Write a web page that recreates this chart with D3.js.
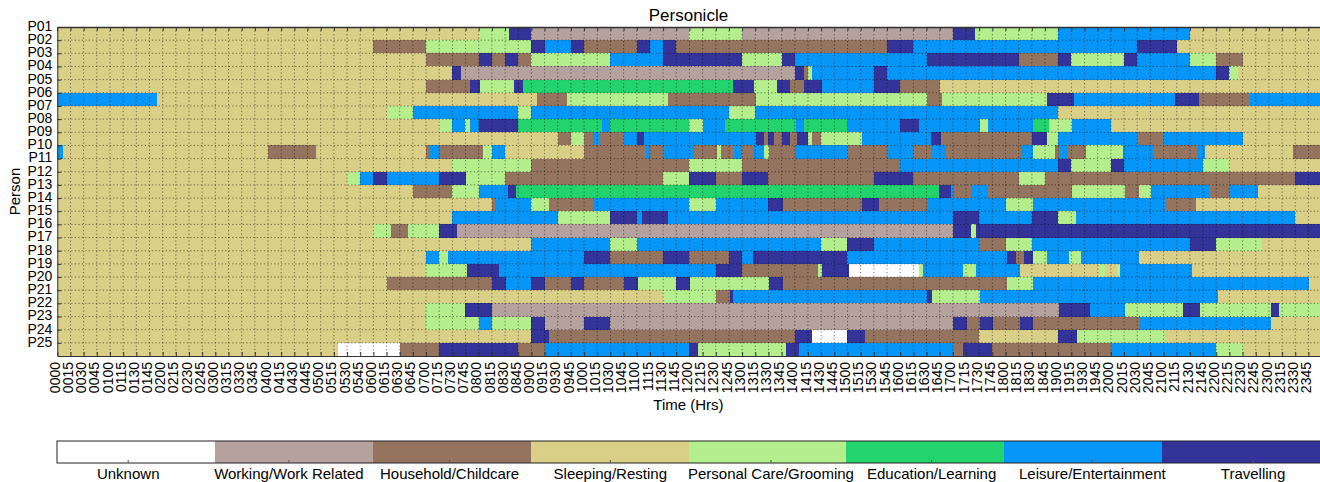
<!DOCTYPE html>
<html>
<head>
<meta charset="utf-8">
<script src="https://cdn.jsdelivr.net/npm/d3@7"></script>
<style>
  body { margin: 0; background: #fff; }
  svg text { font-family: "Liberation Sans", Arial, sans-serif; fill: #000; }
</style>
</head>
<body>
<div id="chart"></div>
<script>
const categories = ["Unknown", "Working/Work Related", "Household/Childcare", "Sleeping/Resting",
  "Personal Care/Grooming", "Education/Learning", "Leisure/Entertainment", "Travelling"];
const codes = ["U", "W", "H", "S", "P", "E", "L", "T"];
const colors = ["#ffffff", "#b5a19e", "#94745f", "#d9cf87", "#b4ee8d", "#23d36d", "#0596f7", "#333399"];

const persons = ["P01", "P02", "P03", "P04", "P05", "P06", "P07", "P08", "P09", "P10", "P11", "P12", "P13",
  "P14", "P15", "P16", "P17", "P18", "P19", "P20", "P21", "P22", "P23", "P24", "P25"];

// one string per row: "start code" pairs, each run lasts until the next start (last one until 2400)
const schedules = [
  "0000 S,0800 P,0835 T,0900 W,1200 P,1300 W,1700 T,1725 P,1900 L,2130 S",
  "0000 S,0600 H,0700 P,0900 T,0915 L,0945 T,1000 H,1100 T,1115 L,1130 T,1145 H,1545 T,1615 L,2030 T,2115 S",
  "0000 S,0700 H,0800 T,0815 H,0830 T,0845 H,0900 P,1030 L,1130 T,1300 P,1345 T,1400 L,1630 T,1815 H,1900 T,1915 P,2015 T,2030 L,2130 P,2200 H,2230 S",
  "0000 S,0730 T,0740 W,1400 T,1410 H,1415 P,1420 L,1530 T,1545 L,2200 T,2215 P,2225 S",
  "0000 S,0700 H,0750 T,0802 P,0840 T,0850 E,1250 T,1313 P,1340 T,1354 H,1411 T,1431 L,1530 T,1600 H,1645 S",
  "0000 L,0153 S,0906 H,0941 P,1136 H,1316 P,1630 H,1648 P,1847 T,1918 L,2113 T,2140 H,2238 L",
  "0000 S,0615 P,0645 L,0845 P,0900 L,1245 P,1315 L,1900 S",
  "0000 S,0715 P,0730 L,0744 P,0750 L,0800 T,0845 E,1020 L,1030 E,1200 P,1215 L,1240 E,1401 L,1411 E,1500 L,1600 T,1621 L,1731 P,1740 L,1831 E,1850 P,1916 L,2000 S",
  "0000 S,0930 H,0945 P,1000 H,1010 L,1017 H,1045 L,1100 T,1108 L,1316 T,1325 H,1330 T,1336 H,1345 T,1354 H,1403 T,1415 P,1420 H,1430 P,1516 L,1635 T,1647 H,1830 T,1847 P,1900 L,2030 H,2100 L,2230 S",
  "0000 L,0007 S,0400 H,0455 S,0700 H,0705 L,0716 H,0805 P,0815 L,0830 S,1000 H,1111 L,1115 H,1130 L,1205 H,1231 P,1236 H,1251 L,1300 H,1312 L,1325 P,1331 H,1400 L,1500 H,1545 L,1615 H,1635 L,1652 H,1818 L,1831 P,1856 H,1901 L,1911 H,1932 P,2014 L,2048 H,2138 L,2147 S,2327 H",
  "0000 S,0730 P,0900 H,1200 P,1300 H,1600 L,1900 T,1915 P,2000 T,2015 L,2145 P,2215 S",
  "0000 S,0530 P,0545 L,0600 T,0615 L,0715 T,0745 P,0830 H,1130 P,1200 T,1230 H,1300 T,1330 H,1530 T,1615 H,1815 P,1845 H,2330 T",
  "0000 S,0645 H,0730 P,0800 L,0833 T,0842 E,1644 T,1658 L,1701 H,1721 L,1740 H,1916 P,2016 H,2032 P,2046 L,2152 H,2216 L,2247 S",
  "0000 S,0815 H,0819 L,0900 P,0920 H,1010 L,1200 P,1230 L,1330 T,1346 H,1516 T,1536 H,1631 L,1800 P,1831 L,2102 H,2137 S",
  "0000 S,0730 L,0930 P,1030 T,1100 L,1106 T,1135 L,1700 T,1730 L,1830 T,1900 P,1920 L,2330 S",
  "0000 S,0600 P,0620 H,0640 P,0715 T,0735 W,1700 T,1721 P,1726 T",
  "0000 S,0900 L,1030 P,1100 L,1430 P,1500 T,1530 L,1730 H,1800 P,1830 L,2130 T,2200 P,2252 S",
  "0000 S,0700 L,0715 P,0725 L,1000 T,1030 H,1130 T,1200 H,1245 T,1300 L,1312 T,1500 L,1802 T,1812 H,1821 T,1831 P,1847 L,1912 P,1926 L,2032 S",
  "0000 S,0700 P,0747 T,0823 L,1230 T,1300 H,1426 P,1431 T,1502 U,1621 P,1626 L,1712 P,1726 L,1816 S,1946 P,1953 S,2007 P,2010 L,2132 S",
  "0000 S,0615 H,0815 T,0831 L,0900 T,0915 H,0945 T,1000 H,1045 T,1101 P,1145 T,1201 P,1331 T,1346 H,1802 P,1831 L,2346 S",
  "0000 S,1130 P,1230 H,1246 T,1250 L,1631 T,1636 P,1731 L,2202 S",
  "0000 S,0700 P,0744 T,0815 W,1901 T,1936 L,2016 P,2122 T,2142 P,2302 T,2312 P",
  "0000 S,0700 P,0800 L,0815 P,0900 T,0915 W,1000 T,1030 W,1700 T,1716 H,1731 T,1746 H,1816 T,1831 H,2032 L,2302 S",
  "0000 S,0900 T,0920 H,1400 T,1420 U,1500 T,1520 H,1730 S,1900 T,1921 P,2102 S",
  "0000 S,0520 U,0630 H,0715 T,0845 H,0915 L,1200 T,1210 P,1350 T,1405 L,1700 H,1712 T,1745 H,2000 L,2200 P,2230 S"
];

// tick labels every 15 minutes, 0000 .. 2345
const tickMinutes = d3.range(0, 1440, 15);
const timeLabels = tickMinutes.map(m => String(Math.floor(m / 60)).padStart(2, "0") + String(m % 60).padStart(2, "0"));

const toMin = s => +s.slice(0, 2) * 60 + +s.slice(2, 4);

// runs -> cells
const cells = [];
schedules.forEach((s, row) => {
  const runs = s.split(",").map(r => {
    const [t, c] = r.trim().split(" ");
    return { start: toMin(t), cat: codes.indexOf(c) };
  });
  runs.forEach((r, i) => {
    cells.push({ row: row, start: r.start, end: i < runs.length - 1 ? runs[i + 1].start : 1440, cat: r.cat });
  });
});

const [width, height] = [1320, 482];
const [plotL, plotR, plotT, plotB] = [57.3, 1321.6, 27, 356];

const svg = d3.select("#chart").append("svg")
  .attr("width", width)
  .attr("height", height);

const x = d3.scaleLinear().domain([0, 1440]).range([plotL, plotR]);
const y = d3.scaleLinear().domain([0, persons.length]).range([plotT, plotB]);
const color = d3.scaleOrdinal().domain(d3.range(categories.length)).range(colors);

svg.append("text")
  .attr("x", (plotL + plotR) / 2 - 1)
  .attr("y", 15)
  .attr("dy", "0.35em")
  .attr("text-anchor", "middle")
  .attr("font-size", 17)
  .text("Personicle");

svg.append("g")
  .selectAll("rect")
  .data(cells)
  .enter().append("rect")
  .attr("x", d => x(d.start))
  .attr("y", d => y(d.row))
  .attr("width", d => x(d.end) - x(d.start))
  .attr("height", d => y(d.row + 1) - y(d.row))
  .attr("fill", d => color(d.cat))
  .attr("shape-rendering", "crispEdges");

// dotted grid
const grid = svg.append("g")
  .attr("stroke", "#000")
  .attr("stroke-opacity", 0.5)
  .attr("stroke-width", 1)
  .attr("stroke-dasharray", "1.2,2.3");

grid.selectAll("line.v")
  .data(tickMinutes.slice(1))
  .enter().append("line")
  .attr("class", "v")
  .attr("x1", d => x(d)).attr("x2", d => x(d))
  .attr("y1", plotT).attr("y2", plotB);

grid.selectAll("line.h")
  .data(d3.range(1, persons.length))
  .enter().append("line")
  .attr("class", "h")
  .attr("x1", plotL).attr("x2", plotR)
  .attr("y1", d => y(d)).attr("y2", d => y(d));

// axes
const xAxis = svg.append("g")
  .attr("transform", `translate(0,${plotB})`)
  .call(d3.axisBottom(x)
    .tickValues(tickMinutes)
    .tickFormat((d, i) => timeLabels[i])
    .tickSizeInner(-4)
    .tickSizeOuter(0));

xAxis.selectAll("text")
  .attr("font-size", 14)
  .attr("transform", "rotate(-90)")
  .attr("x", -6)
  .attr("y", 0)
  .attr("dy", "0.15em")
  .attr("text-anchor", "end");

svg.append("g")
  .attr("transform", `translate(0,${plotT})`)
  .call(d3.axisTop(x)
    .tickValues(tickMinutes)
    .tickFormat("")
    .tickSizeInner(-4)
    .tickSizeOuter(0))
  .call(g => g.select(".domain").attr("stroke", "#777").attr("stroke-width", 1.5));

const yAxis = svg.append("g")
  .attr("transform", `translate(${plotL},0)`)
  .call(d3.axisLeft(y)
    .tickValues(d3.range(persons.length))
    .tickFormat(i => persons[i])
    .tickSizeInner(-4)
    .tickSizeOuter(0)
    .tickPadding(5));

yAxis.selectAll("text")
  .attr("font-size", 14)
  .attr("dy", "0.24em");

svg.selectAll(".domain").attr("stroke", "#333");
svg.selectAll(".tick line").attr("stroke", "#333");

svg.append("text")
  .attr("x", (plotL + plotR) / 2 - 1)
  .attr("y", 405)
  .attr("dy", "0.35em")
  .attr("text-anchor", "middle")
  .attr("font-size", 15)
  .text("Time (Hrs)");

svg.append("text")
  .attr("transform", `translate(15,${(plotT + plotB) / 2}) rotate(-90)`)
  .attr("dy", "0.35em")
  .attr("text-anchor", "middle")
  .attr("font-size", 15)
  .text("Person");

// colour bar legend
const [cbTop, cbBottom, cbLeft, cbRight] = [441, 463, 57, 1320];
const cbBand = d3.scaleBand().domain(d3.range(categories.length)).range([cbLeft, cbRight]);
const cbScale = d3.scaleLinear().domain([-0.44, 7.42]).range([cbLeft, cbRight]);

svg.append("g")
  .selectAll("rect")
  .data(d3.range(categories.length))
  .enter().append("rect")
  .attr("x", d => cbBand(d))
  .attr("y", cbTop)
  .attr("width", cbBand.bandwidth())
  .attr("height", cbBottom - cbTop)
  .attr("fill", d => color(d))
  .attr("shape-rendering", "crispEdges");

svg.append("rect")
  .attr("x", cbLeft)
  .attr("y", cbTop)
  .attr("width", cbRight - cbLeft + 2)
  .attr("height", cbBottom - cbTop)
  .attr("fill", "none")
  .attr("stroke", "#222")
  .attr("stroke-width", 1);

const cbAxis = svg.append("g")
  .attr("transform", `translate(0,${cbBottom})`)
  .call(d3.axisBottom(cbScale)
    .tickValues(d3.range(categories.length))
    .tickFormat(i => categories[i])
    .tickSizeInner(-3)
    .tickSizeOuter(0)
    .tickPadding(5));

cbAxis.select(".domain").remove();
cbAxis.selectAll(".tick line").attr("stroke", "#555");
cbAxis.selectAll("text").attr("font-size", 15);
</script>
</body>
</html>
